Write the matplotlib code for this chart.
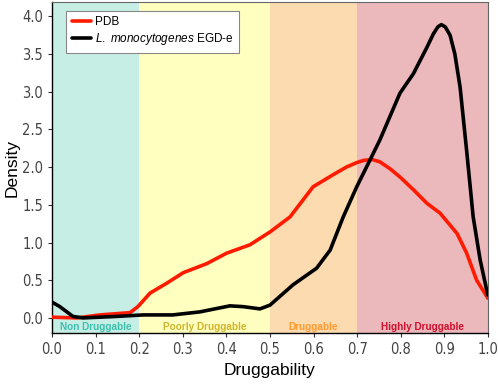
import matplotlib
matplotlib.use("Agg")
import matplotlib.pyplot as plt
from matplotlib import font_manager

# values
pdb_x = [0.0, 0.057, 0.11, 0.179, 0.197, 0.225, 0.263, 0.301, 0.355, 0.401, 0.454, 0.5,
         0.546, 0.599, 0.645, 0.675, 0.699, 0.715, 0.735, 0.752, 0.775, 0.798, 0.829, 0.86,
         0.89, 0.929, 0.951, 0.974, 1.0]
pdb_y = [0.01, 0.0, 0.04, 0.07, 0.15, 0.33, 0.46, 0.6, 0.72, 0.86, 0.97, 1.14,
         1.34, 1.74, 1.9, 2.0, 2.06, 2.09, 2.1, 2.07, 1.98, 1.87, 1.7, 1.52,
         1.39, 1.12, 0.86, 0.5, 0.26]

lm_x = [0.0, 0.018, 0.048, 0.071, 0.148, 0.209, 0.277, 0.339, 0.408, 0.438, 0.477, 0.5,
        0.553, 0.607, 0.638, 0.668, 0.699, 0.729, 0.752, 0.798, 0.829, 0.86, 0.875, 0.885,
        0.893, 0.902, 0.913, 0.924, 0.936, 0.951, 0.966, 0.982, 0.997, 1.0]
lm_y = [0.21, 0.15, 0.02, 0.0, 0.02, 0.04, 0.04, 0.08, 0.16, 0.15, 0.12, 0.17,
        0.44, 0.66, 0.9, 1.34, 1.74, 2.09, 2.36, 2.98, 3.24, 3.59, 3.77, 3.86,
        3.89, 3.86, 3.75, 3.5, 3.06, 2.22, 1.34, 0.77, 0.37, 0.3]

band_edges = [0.0, 0.2, 0.5, 0.7, 1.0]
band_labels = ["Non Druggable", "Poorly Druggable", "Druggable", "Highly Druggable"]
band_fill = ["#c6eee5", "#ffffc0", "#fddbb0", "#ebb8bb"]
band_text = ["#3fbfae", "#cfb52e", "#ff9a2e", "#d0102e"]

# condensed face for the tick labels if one is installed
tick_font = font_manager.FontProperties(family="Liberation Sans", size=10.5)
for f in font_manager.fontManager.ttflist:
    if f.name == "Liberation Sans Narrow" and f.style == "normal" and f.weight in (400, "normal"):
        tick_font = font_manager.FontProperties(fname=f.fname, size=11.5)
        break
else:
    for f in font_manager.fontManager.ttflist:
        if f.name == "DejaVu Sans" and "Condensed" in f.fname and "Bold" not in f.fname \
                and "Oblique" not in f.fname:
            tick_font = font_manager.FontProperties(fname=f.fname, size=10.5)
            break

plt.rcParams["font.family"] = ["Liberation Sans", "DejaVu Sans"]
plt.rcParams["mathtext.fontset"] = "custom"
plt.rcParams["mathtext.it"] = "Liberation Sans:italic"
plt.rcParams["mathtext.rm"] = "Liberation Sans"

fig = plt.figure(figsize=(4.98, 3.91), dpi=100)
ax = fig.add_axes([0.1044, 0.1483, 0.8755, 0.8466])

for i in range(4):
    a, b = band_edges[i], band_edges[i + 1]
    ax.axvspan(a, b, color=band_fill[i], lw=0, zorder=0)
    ax.text((a + b) / 2, -0.125, band_labels[i], color=band_text[i], fontsize=7.2,
            fontweight="bold", ha="center", va="center", zorder=1)

ax.plot(pdb_x, pdb_y, color="#ff1a00", lw=2.6, solid_capstyle="round",
        solid_joinstyle="round", zorder=3, label="PDB")
ax.plot(lm_x, lm_y, color="black", lw=2.6, solid_capstyle="round",
        solid_joinstyle="round", zorder=4, label=r"$\it{L.}$ $\it{monocytogenes}$ EGD-e")

ax.set_xlim(0, 1)
ax.set_ylim(-0.2, 4.19)
ax.set_xticks([i / 10 for i in range(11)])
ax.set_yticks([i / 2 for i in range(9)])
ax.set_xticklabels([f"{i / 10:.1f}" for i in range(11)], fontproperties=tick_font, color="#444444")
ax.set_yticklabels([f"{i / 2:.1f}" for i in range(9)], fontproperties=tick_font, color="#444444")
ax.tick_params(direction="out", length=3, color="#333333")
ax.set_xlabel("Druggability", fontsize=12.5, labelpad=4)
ax.set_ylabel("Density", fontsize=12.5, labelpad=2)

for s in ["left", "bottom"]:
    ax.spines[s].set_color("black")
    ax.spines[s].set_linewidth(1.0)
for s in ["top", "right"]:
    ax.spines[s].set_color("#666666")
    ax.spines[s].set_linewidth(0.8)

leg = ax.legend(loc="upper left", bbox_to_anchor=(0.025, 0.985), fontsize=8.5, frameon=True,
                fancybox=False, handlelength=1.6, borderpad=0.45, labelspacing=0.3,
                handletextpad=0.4, borderaxespad=0.3)
leg.get_frame().set_edgecolor("#888888")
leg.get_frame().set_linewidth(0.8)
leg.get_frame().set_facecolor("white")
leg.get_frame().set_alpha(1)

fig.savefig("out.png", dpi=100)
